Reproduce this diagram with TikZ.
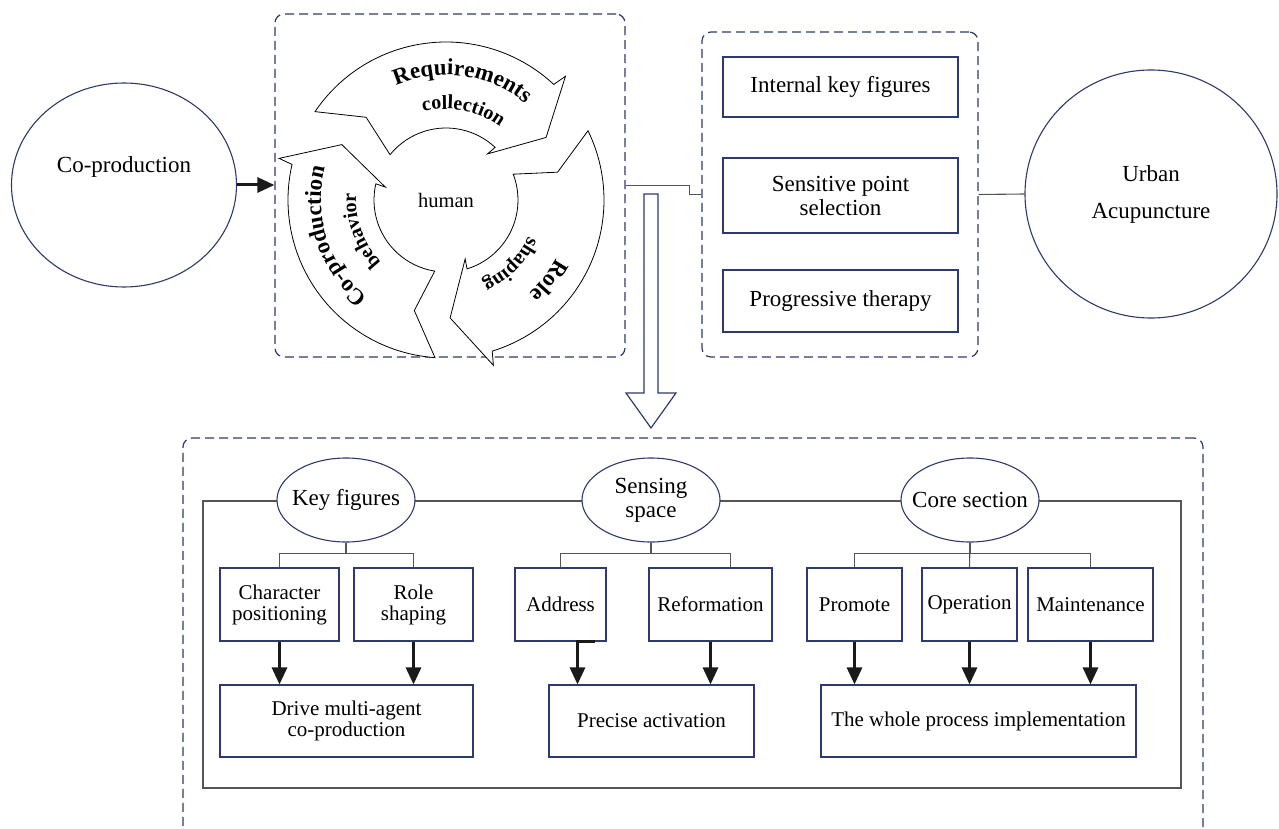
\documentclass[tikz,border=0pt]{standalone}
\usepackage{fontspec}
\setmainfont{Liberation Serif}
\usetikzlibrary{shapes.geometric, arrows.meta, calc, decorations.text}

\definecolor{navy}{HTML}{2E3A6B}
\definecolor{linegray}{HTML}{555555}
\definecolor{arrowblack}{HTML}{1A1A1A}

\newcommand{\arcbig}{\fontsize{23}{23}\selectfont\bfseries}
\newcommand{\arcsmall}{\fontsize{20}{20}\selectfont\bfseries}

\tikzset{
    dashbox/.style={draw=navy, dash pattern=on 9pt off 5pt, rounded corners=9pt, line width=1.2pt},
    box/.style={draw=navy, line width=1.1pt, fill=white, align=center, inner sep=2pt},
    sub/.style={box, font=\fontsize{21}{21}\selectfont},
    oval/.style={ellipse, draw=navy, line width=1.1pt, fill=white, inner sep=0pt},
    link/.style={draw=linegray, line width=1.1pt},
    flow/.style={draw=arrowblack, line width=3pt, -{Triangle[length=17pt, width=15pt]}},
    cyc/.style={draw=black, line width=0.8pt, fill=white},
}

\begin{document}
\begin{tikzpicture}[x=1pt, y=-1pt, font=\fontsize{23}{24}\selectfont]
    \useasboundingbox (0,0) rectangle (1279,829);

    % Co-production circle
    \node[oval, minimum width=225pt, minimum height=204pt, label={[yshift=18pt]center:Co-production}] (cop) at (124,185) {};

    % Cycle around human
    \node[dashbox, minimum width=350pt, minimum height=343pt] (cycbox) at (450,185.5) {};
    \coordinate (hub) at (446,200);
    \foreach \r in {0,120,240} {
        \draw[cyc] ($(hub)+(-146-\r:158)$) arc[start angle=-146-\r, end angle=-47-\r, radius=158]
            -- ($(hub)+(-46-\r:172)$) -- ($(hub)+(-32-\r:118)$) -- ($(hub)+(-48-\r:62)$)
            -- ($(hub)+(-47-\r:72)$) arc[start angle=-47-\r, end angle=-141-\r, radius=72]
            -- ($(hub)+(-134-\r:115)$) -- cycle;
    }
    \path[decorate, decoration={text along path, text align=center, text={|\arcbig|Requirements}}]
        ($(hub)+(-142:125)$) arc[start angle=-142, end angle=-22, radius=125];
    \path[decorate, decoration={text along path, text align=center, text={|\arcsmall|collection}}]
        ($(hub)+(-139:91)$) arc[start angle=-139, end angle=-19, radius=91];
    \path[decorate, decoration={text along path, text align=center, text={|\arcbig|Co-production}}]
        ($(hub)+(-258:125)$) arc[start angle=-258, end angle=-138, radius=125];
    \path[decorate, decoration={text along path, text align=center, text={|\arcsmall|behavior}}]
        ($(hub)+(-260:90)$) arc[start angle=-260, end angle=-140, radius=90];
    \path[decorate, decoration={text along path, text align=center, text={|\arcbig|Role}}]
        ($(hub)+(-22:125)$) arc[start angle=-22, end angle=98, radius=125];
    \path[decorate, decoration={text along path, text align=center, text={|\arcsmall|shaping}}]
        ($(hub)+(-15:90)$) arc[start angle=-15, end angle=105, radius=90];
    \node[font=\fontsize{20.5}{22}\selectfont] (human) at (hub) {human};

    % Acupuncture points
    \node[dashbox, minimum width=276pt, minimum height=325pt] (ptbox) at (840,194.5) {};
    \node[box, minimum width=235pt, minimum height=60pt] (ikf) at (840.5,87) {Internal key figures};
    \node[box, minimum width=235pt, minimum height=75pt] (sps) at (840.5,195.5) {Sensitive point\\selection};
    \node[box, minimum width=235pt, minimum height=62pt] (pgt) at (840.5,301) {Progressive therapy};

    % Urban acupuncture circle
    \node[oval, minimum width=252pt, minimum height=248pt, align=center, font=\fontsize{23}{37}\selectfont] (ua) at (1151,194) {Urban\\Acupuncture};

    % Top connectors
    \draw[flow] (cop.east) -- (cop.east -| cycbox.west);
    \draw[link] (cycbox.east) -- ++(64,0) |- (ptbox.west);
    \draw[link] (ptbox.east) -- (ua.west);

    % Hollow arrow down
    \coordinate (dn) at (651,194);
    \draw[navy, line width=1.2pt, fill=white] (dn) ++(-7,0) -- ++(0,199) -- ++(-18,0) -- ++(25,35)
        -- ++(25,-35) -- ++(-18,0) -- ++(0,-199) -- cycle;

    % Bottom frame
    \node[dashbox, minimum width=1020pt, minimum height=410pt] (bigbox) at (693,643) {};
    \node[draw=linegray, line width=1.1pt, minimum width=978pt, minimum height=287pt] (frame) at (692,644.5) {};

    % Three heads
    \node[oval, minimum width=138pt, minimum height=84pt, label=center:Key figures] (kf) at (346,500) {};
    \node[oval, minimum width=138pt, minimum height=84pt, label={[align=center]center:Sensing\\space}] (ss) at (651,500) {};
    \node[oval, minimum width=138pt, minimum height=84pt, label=center:Core section] (cs) at (970,500) {};

    % First row
    \node[sub, minimum width=119pt, minimum height=73pt] (cp) at (279.5,604.5) {Character\\positioning};
    \node[sub, minimum width=119pt, minimum height=73pt] (rs) at (413.5,604.5) {Role\\shaping};
    \node[sub, minimum width=91pt, minimum height=73pt] (ad) at (560.5,604.5) {Address};
    \node[sub, minimum width=123pt, minimum height=73pt] (rf) at (710.5,604.5) {Reformation};
    \node[sub, minimum width=95pt, minimum height=73pt] (pr) at (854.5,604.5) {Promote};
    \node[sub, minimum width=95pt, minimum height=73pt] (op) at (969.5,604.5) {Operation};
    \node[sub, minimum width=125pt, minimum height=73pt] (mt) at (1090.5,604.5) {Maintenance};

    % Second row
    \node[sub, minimum width=253pt, minimum height=72pt] (dm) at (346.5,721) {Drive multi-agent\\co-production};
    \node[sub, minimum width=205pt, minimum height=72pt] (pa) at (651.5,721) {Precise activation};
    \node[sub, minimum width=315pt, minimum height=72pt] (wp) at (978.5,721) {The whole process implementation};

    % Tree lines
    \draw[link] (kf.south) -- ++(0,11) -| (cp.north);
    \draw[link] (kf.south) -- ++(0,11) -| (rs.north);
    \draw[link] (ss.south) -- ++(0,11) -| (ad.north);
    \draw[link] (ss.south) -- ++(0,11) -| ([xshift=20pt]rf.north);
    \draw[link] (cs.south) -- ++(0,11) -| (pr.north);
    \draw[link] (cs.south) -- (op.north);
    \draw[link] (cs.south) -- ++(0,11) -| (mt.north);

    % Arrows down
    \draw[flow] (cp.south) -- (cp.south |- dm.north);
    \draw[flow] (rs.south) -- (rs.south |- dm.north);
    \draw[flow] ([xshift=34pt]ad.south) -- ([xshift=17pt]ad.south) -- ([xshift=17pt]ad.south |- pa.north);
    \draw[flow] (rf.south) -- (rf.south |- pa.north);
    \draw[flow] (pr.south) -- (pr.south |- wp.north);
    \draw[flow] (op.south) -- (op.south |- wp.north);
    \draw[flow] (mt.south) -- (mt.south |- wp.north);

\end{tikzpicture}
\end{document}
